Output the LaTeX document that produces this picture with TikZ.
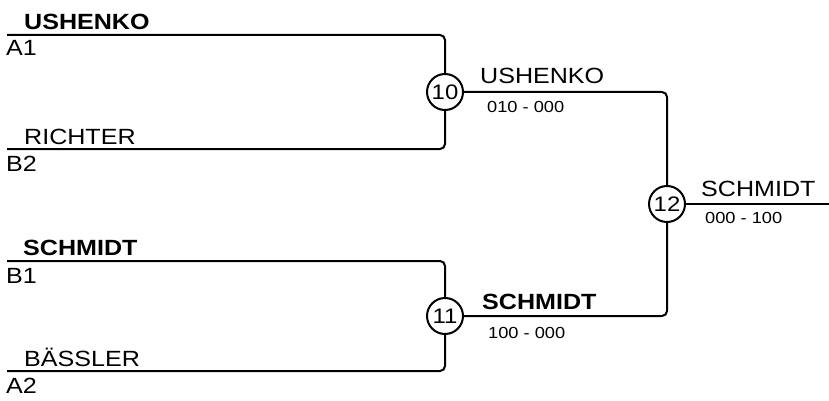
\documentclass[tikz,border=0pt]{standalone}
\usepackage{fontspec}
\setmainfont{Liberation Sans}[FakeStretch=1.14]
\begin{document}
\begin{tikzpicture}[x=1pt,y=-1pt,
  bline/.style={line width=2pt,rounded corners=5pt},
  matchnode/.style={circle,draw,line width=2pt,fill=white,minimum size=36pt,inner sep=0pt,font=\fontsize{21}{24}\selectfont},
  pname/.style={anchor=base west,inner sep=0pt,font=\fontsize{22}{24}\selectfont},
  bpname/.style={anchor=base west,inner sep=0pt,font=\fontsize{22}{24}\selectfont\bfseries},
  scoretext/.style={anchor=base west,inner sep=0pt,font=\fontsize{16}{18}\selectfont}]
\useasboundingbox (0,0) rectangle (829,401);
% coordinates of line ends
\coordinate (a1) at (7,35);
\coordinate (b2) at (7,149);
\coordinate (b1) at (7,261);
\coordinate (a2) at (7,371);
\coordinate (fin) at (829,204);
% match nodes
\node[matchnode] (m10) at (445,92) {10};
\node[matchnode] (m11) at (445,316) {11};
\node[matchnode] (m12) at (667,204) {12};
% connectors
\draw[bline] (a1) -- (445,35) -- (m10.north);
\draw[bline] (b2) -- (445,149) -- (m10.south);
\draw[bline] (b1) -- (445,261) -- (m11.north);
\draw[bline] (a2) -- (445,371) -- (m11.south);
\draw[bline] (m10.east) -- (667,92) -- (m12.north);
\draw[bline] (m11.east) -- (667,316) -- (m12.south);
\draw[bline] (m12.east) -- (fin);
% player names and seeds
\node[bpname] (p1) at (24,30) {USHENKO};
\node[pname] (q1) at (6,56) {A1};
\node[pname] (p2) at (24,144) {RICHTER};
\node[pname] (q2) at (6,171) {B2};
\node[bpname] (p3) at (23,255) {SCHMIDT};
\node[pname] (q3) at (6,283) {B1};
\node[pname] (p4) at (24,366) {BÄSSLER};
\node[pname] (q4) at (6,393) {A2};
% winners and scores
\node[pname] (w10) at (480,84) {USHENKO};
\node[scoretext] (s10) at (487,113) {010 - 000};
\node[bpname] (w11) at (482,309) {SCHMIDT};
\node[scoretext] (s11) at (488,338) {100 - 000};
\node[pname] (w12) at (701,196) {SCHMIDT};
\node[scoretext] (s12) at (705,223) {000 - 100};
\end{tikzpicture}
\end{document}
